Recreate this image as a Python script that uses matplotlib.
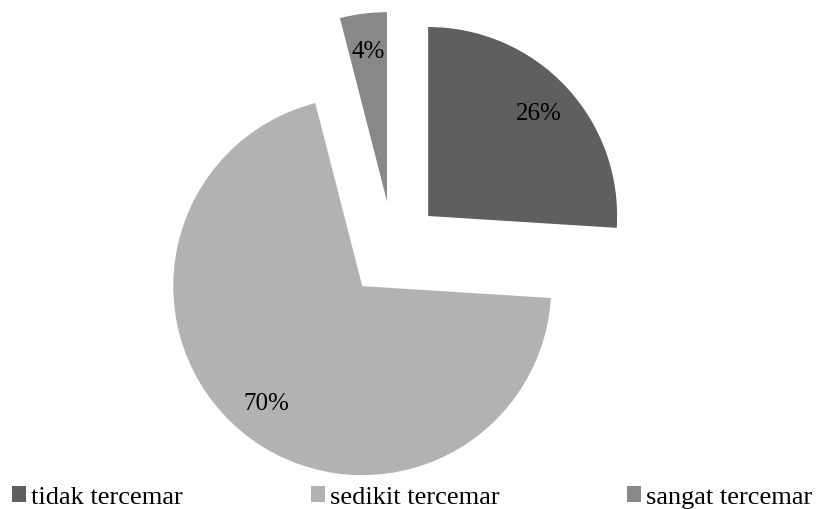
import matplotlib.pyplot as plt

# data
labels = ['tidak tercemar', 'sedikit tercemar', 'sangat tercemar']
values = [26, 70, 4]
colors = ['#5f5f5f', '#b2b2b2', '#888888']
explode = [0.255, 0.255, 0.255]

plt.rcParams['font.family'] = ['Liberation Serif', 'DejaVu Serif']

fig = plt.figure(figsize=(8.22, 5.10), dpi=100)
ax = fig.add_axes([0, 0, 1, 1])

wedges, texts, autotexts = ax.pie(
    values, colors=colors, explode=explode, startangle=90, counterclock=False,
    radius=1.0, autopct='%d%%', pctdistance=0.8,
    wedgeprops=dict(linewidth=0),
    textprops=dict(fontsize=18, color='black'))

# pie centre at (393, 250) px from top-left, radius 189 px
scale = 189.0
ax.set_xlim(-393 / scale, (822 - 393) / scale)
ax.set_ylim(-260 / scale, 250 / scale)
ax.set_aspect('auto')
ax.axis('off')

fig.legend(wedges, labels, loc='lower left', bbox_to_anchor=(12 / 822, 0.5 / 510),
           ncol=3, frameon=False, fontsize=19, handlelength=0.53, handleheight=0.53,
           handletextpad=0.19, columnspacing=4.85, borderpad=0, borderaxespad=0)

fig.savefig('out.png', dpi=100)
